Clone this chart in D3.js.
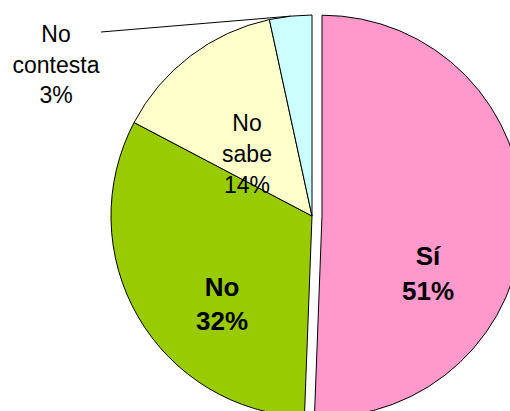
<!DOCTYPE html>
<html>
<head>
<meta charset="utf-8">
<script src="https://cdn.jsdelivr.net/npm/d3@7"></script>
<style>
  body { margin: 0; background: #fff; }
  svg { display: block; font-family: "Liberation Sans", Arial, sans-serif; }
</style>
</head>
<body>
<div class="chart"></div>
<script>
// Data
const categories = ["Sí", "No", "No sabe", "No contesta"];
const values = [50.6, 32.1, 13.9, 3.4];
const colors = ["#FF99CC", "#99CC00", "#FFFFCC", "#CCFFFF"];
const boldLabel = [true, true, false, false];

// Layout
const width = 510, height = 411;
const cx = 312, cy = 216, radius = 201;
const explode = [10, 0, 0, 0];
// label centre x / first baseline offsets from pie centre (px), and line gap
const labelOffset = [[116, 49], [-90, 80], [-65, -85], [-256, -174]];
const lineGap = [35, 34, 31, 30.5];
const leaderStart = [-211, -184];

const svg = d3.select(".chart")
  .append("svg")
  .attr("width", width)
  .attr("height", height);

svg.append("rect").attr("width", width).attr("height", height).attr("fill", "#fff");

const chart = svg.append("g").attr("transform", `translate(${cx}, ${cy})`);

const pie = d3.pie().sort(null).value(d => d);
const arcs = pie(values);
const arc = d3.arc().innerRadius(0).outerRadius(radius);

const total = d3.sum(values);

// Slices
chart.selectAll("path.slice")
  .data(arcs)
  .join("path")
  .attr("class", "slice")
  .attr("transform", (d, i) => {
    const mid = (d.startAngle + d.endAngle) / 2;
    return `translate(${Math.sin(mid) * explode[i]}, ${-Math.cos(mid) * explode[i]})`;
  })
  .attr("d", arc)
  .attr("fill", (d, i) => colors[i])
  .attr("stroke", "#000")
  .attr("stroke-width", 1)
  .attr("stroke-linejoin", "round");

// Leader line for the small slice
const small = arcs[3];
const smallMid = (small.startAngle + small.endAngle) / 2;
chart.append("line")
  .attr("x1", leaderStart[0])
  .attr("y1", leaderStart[1])
  .attr("x2", Math.sin(smallMid) * radius)
  .attr("y2", -Math.cos(smallMid) * radius)
  .attr("stroke", "#000")
  .attr("stroke-width", 1);

// Labels
const labels = chart.selectAll("text.label")
  .data(arcs)
  .join("text")
  .attr("class", "label")
  .attr("text-anchor", "middle")
  .attr("font-size", (d, i) => boldLabel[i] ? 26 : 23)
  .attr("font-weight", (d, i) => boldLabel[i] ? "bold" : "normal")
  .attr("fill", "#000");

labels.each(function(d, i) {
  const words = categories[i].split(" ");
  const pct = Math.round(d.value / total * 100) + "%";
  const lines = words.concat([pct]);
  const [ox, oy] = labelOffset[i];
  d3.select(this).selectAll("tspan")
    .data(lines)
    .join("tspan")
    .attr("x", ox)
    .attr("y", (t, j) => oy + j * lineGap[i])
    .text(t => t);
});
</script>
</body>
</html>
